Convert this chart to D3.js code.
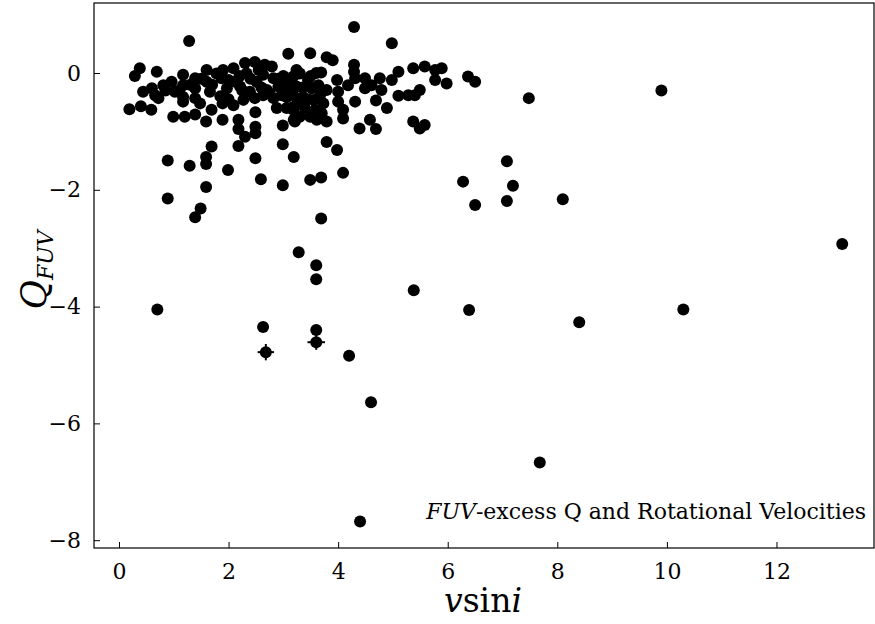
<!DOCTYPE html>
<html>
<head>
<meta charset="utf-8">
<script src="https://cdn.jsdelivr.net/npm/d3@7"></script>
<style>
  body { margin: 0; background: #fff; }
  svg text { font-family: "DejaVu Serif", "Liberation Serif", "Times New Roman", serif; fill: #000; }
</style>
</head>
<body>
<div id="chart"></div>
<script>
// Values: v sin i and Q_FUV
const vsini = [
  // main cluster
  0.38, 0.29, 0.69, 0.44, 0.60, 0.66, 0.81, 0.96, 1.02, 1.17, 1.17, 1.17, 1.39, 1.39, 1.39, 1.48,
  1.60, 1.60, 1.66, 1.78, 1.87, 1.90, 1.97, 2.09, 2.12, 2.21, 2.30, 2.33, 2.39, 2.48, 2.51, 2.63,
  2.66, 2.70, 2.79, 2.82, 2.91, 2.97, 3.06, 3.15, 3.18, 3.24,
  0.19, 0.40, 0.59, 0.72, 0.99, 1.20, 1.39, 1.17, 1.69, 1.89, 2.09, 2.27, 2.48, 2.63, 2.82, 2.88,
  3.06, 3.18, 3.27,
  1.59, 1.89, 2.18, 2.18, 2.30, 2.49, 2.49, 2.49, 2.99, 3.19, 1.69, 2.18, 2.99, 0.89, 1.29, 1.59,
  1.59, 1.99, 2.49, 2.59, 2.99, 1.59, 0.89, 1.49, 1.39, 3.19,
  3.09, 3.49, 3.79, 3.90, 4.29, 4.29, 3.69, 3.98, 4.18, 4.31, 4.49, 4.49, 4.61, 4.76, 4.79, 4.98,
  5.10, 5.37, 5.58, 5.77, 5.77, 5.89, 5.98,
  4.31, 4.69, 4.89, 5.10, 5.28, 5.40, 5.49, 4.00, 4.09, 4.09, 4.00, 3.00, 3.06, 3.18, 3.30, 3.21,
  3.49, 3.61, 3.79, 3.70, 4.39, 4.58, 4.69, 5.37, 5.49, 5.58, 3.79, 3.98, 4.09, 3.49, 3.69, 6.50,
  3.69,
  3.12, 3.24, 3.30, 3.36, 3.45, 3.52, 3.55, 3.64, 3.67, 3.73, 3.79, 3.03, 3.18, 3.39, 3.58,
  1.30, 1.50, 1.70, 2.00, 2.25, 2.40, 2.60, 2.75, 2.90, 3.00, 3.35, 3.50, 3.60, 2.55, 2.20, 1.85,
  2.00, 3.45, 1.10, 0.85,
  // scattered points
  1.28, 4.29, 4.98, 9.90, 7.48, 6.37, 6.50, 13.20, 10.30, 8.40, 8.10, 7.08, 7.19, 7.08, 6.28,
  5.38, 6.39, 7.68, 4.40, 4.60, 4.20, 0.70, 2.63, 3.60, 3.60, 3.60, 3.28
];
const qfuv = [
  0.08, -0.05, 0.02, -0.32, -0.26, -0.38, -0.21, -0.15, -0.32, -0.03, -0.21, -0.41, -0.09, -0.26, -0.43, -0.52,
  0.05, -0.15, -0.32, -0.01, -0.09, 0.05, -0.26, 0.08, -0.15, -0.23, 0.17, -0.01, -0.32, 0.19, -0.15, -0.03,
  0.14, -0.29, 0.11, -0.09, -0.23, -0.38, -0.15, -0.32, -0.06, 0.05,
  -0.62, -0.57, -0.63, -0.43, -0.75, -0.75, -0.71, -0.49, -0.63, -0.52, -0.55, -0.46, -0.43, -0.38, -0.43, -0.60,
  -0.60, -0.63, -0.49,
  -0.83, -0.80, -0.80, -0.96, -1.09, -0.67, -0.92, -1.03, -0.90, -0.80, -1.26, -1.25, -1.22, -1.50, -1.59, -1.44,
  -1.56, -1.66, -1.46, -1.82, -1.92, -1.95, -2.15, -2.32, -2.47, -1.44,
  0.33, 0.34, 0.27, 0.22, 0.14, 0.02, 0.01, -0.12, -0.21, -0.09, -0.09, -0.26, -0.21, -0.09, -0.29, -0.12,
  0.02, 0.08, 0.11, 0.05, -0.12, 0.08, -0.18,
  -0.49, -0.47, -0.60, -0.39, -0.38, -0.38, -0.29, -0.49, -0.63, -0.78, -0.32, -0.23, -0.41, -0.58, -0.75, -0.83,
  -0.75, -0.80, -0.83, -0.69, -0.95, -0.80, -0.96, -0.83, -0.95, -0.89, -1.18, -1.32, -1.71, -1.83, -1.79, -2.26,
  -2.49,
  -0.12, -0.23, -0.01, -0.41, -0.12, -0.26, -0.46, -0.21, -0.38, -0.52, -0.29, -0.32, -0.38, -0.60, -0.63,
  -0.20, -0.10, -0.20, -0.12, -0.30, -0.10, -0.25, -0.35, -0.10, -0.05, -0.25, -0.05, 0.00, 0.05, -0.05, -0.40,
  -0.45, -0.45, -0.30, -0.30,
  0.55, 0.79, 0.51, -0.30, -0.43, -0.06, -0.15, -2.93, -4.05, -4.27, -2.16, -1.51, -1.93, -2.19, -1.86,
  -3.72, -4.06, -6.67, -7.68, -5.64, -4.84, -4.05, -4.35, -4.40, -3.53, -3.29, -3.07
];

// Two points drawn with error bars
const errX = [2.68, 3.60];
const errY = [-4.78, -4.61];
const errXsize = [0.15, 0.16];
const errYsize = [0.14, 0.13];

const xTicks = [0, 2, 4, 6, 8, 10, 12];
const yTicks = [0, -2, -4, -6, -8];

const serif = '"DejaVu Serif", "Liberation Serif", "Times New Roman", serif';

const width = 875, height = 624;
const margin = { top: 3, right: 1, bottom: 76, left: 94 };
const plotW = width - margin.left - margin.right;
const plotH = height - margin.top - margin.bottom;

const svg = d3.select('#chart')
    .append('svg')
    .attr('width', width)
    .attr('height', height)
    .attr('font-family', serif);

const g = svg.append('g')
    .attr('transform', `translate(${margin.left},${margin.top})`);

const x = d3.scaleLinear().domain([-0.456, 13.78]).range([0, plotW]);
const y = d3.scaleLinear().domain([-8.134, 1.199]).range([plotH, 0]);

const fmt = d => d < 0 ? '\u2212' + Math.abs(d) : String(d);

// Axes with inward ticks
const xAxis = g.append('g')
    .attr('transform', `translate(0,${plotH})`)
    .call(d3.axisBottom(x).tickValues(xTicks).tickSizeInner(-6).tickSizeOuter(0)
        .tickPadding(15).tickFormat(fmt));
const yAxis = g.append('g')
    .call(d3.axisLeft(y).tickValues(yTicks).tickSizeInner(-6).tickSizeOuter(0)
        .tickPadding(13).tickFormat(fmt));

[xAxis, yAxis].forEach(a => {
    a.attr('font-family', serif).attr('font-size', 22);
    a.select('.domain').remove();
    a.selectAll('.tick line').attr('stroke', '#000').attr('stroke-width', 1);
    a.selectAll('.tick text').attr('fill', '#000');
});

// Frame
g.append('rect')
    .attr('x', 0).attr('y', 0)
    .attr('width', plotW).attr('height', plotH)
    .attr('fill', 'none')
    .attr('stroke', '#000')
    .attr('stroke-width', 1.2);

// Scatter points
const points = vsini.map((v, i) => ({ v, q: qfuv[i] }));
g.selectAll('circle.pt')
    .data(points)
    .enter()
    .append('circle')
    .attr('class', 'pt')
    .attr('cx', d => x(d.v))
    .attr('cy', d => y(d.q))
    .attr('r', 6)
    .attr('fill', '#000');

// Error bar points
const errPts = errX.map((v, i) => ({ v, q: errY[i], ex: errXsize[i], ey: errYsize[i] }));
const eb = g.selectAll('g.eb')
    .data(errPts)
    .enter()
    .append('g')
    .attr('class', 'eb');
eb.append('line')
    .attr('x1', d => x(d.v - d.ex)).attr('x2', d => x(d.v + d.ex))
    .attr('y1', d => y(d.q)).attr('y2', d => y(d.q))
    .attr('stroke', '#000').attr('stroke-width', 2);
eb.append('line')
    .attr('x1', d => x(d.v)).attr('x2', d => x(d.v))
    .attr('y1', d => y(d.q - d.ey)).attr('y2', d => y(d.q + d.ey))
    .attr('stroke', '#000').attr('stroke-width', 2);
eb.append('circle')
    .attr('cx', d => x(d.v)).attr('cy', d => y(d.q))
    .attr('r', 6).attr('fill', '#000');

// Annotation
const note = g.append('text')
    .attr('x', plotW - 8)
    .attr('y', 519 - margin.top)
    .attr('text-anchor', 'end')
    .attr('font-size', 22);
note.append('tspan').attr('font-style', 'italic').text('FUV');
note.append('tspan').text('-excess Q and Rotational Velocities');

// X label
const xl = svg.append('text')
    .attr('x', 483)
    .attr('y', 612)
    .attr('text-anchor', 'middle')
    .attr('font-size', 33);
xl.append('tspan').attr('font-style', 'italic').text('v');
xl.append('tspan').text('sin');
xl.append('tspan').attr('font-style', 'italic').text('i');

// Y label
const yl = svg.append('text')
    .attr('transform', 'translate(46,270) rotate(-90)')
    .attr('text-anchor', 'middle')
    .attr('font-size', 36);
yl.append('tspan').attr('font-style', 'italic').text('Q');
yl.append('tspan').attr('font-style', 'italic').attr('font-size', 22)
    .attr('dy', 7).text('FUV');
</script>
</body>
</html>
